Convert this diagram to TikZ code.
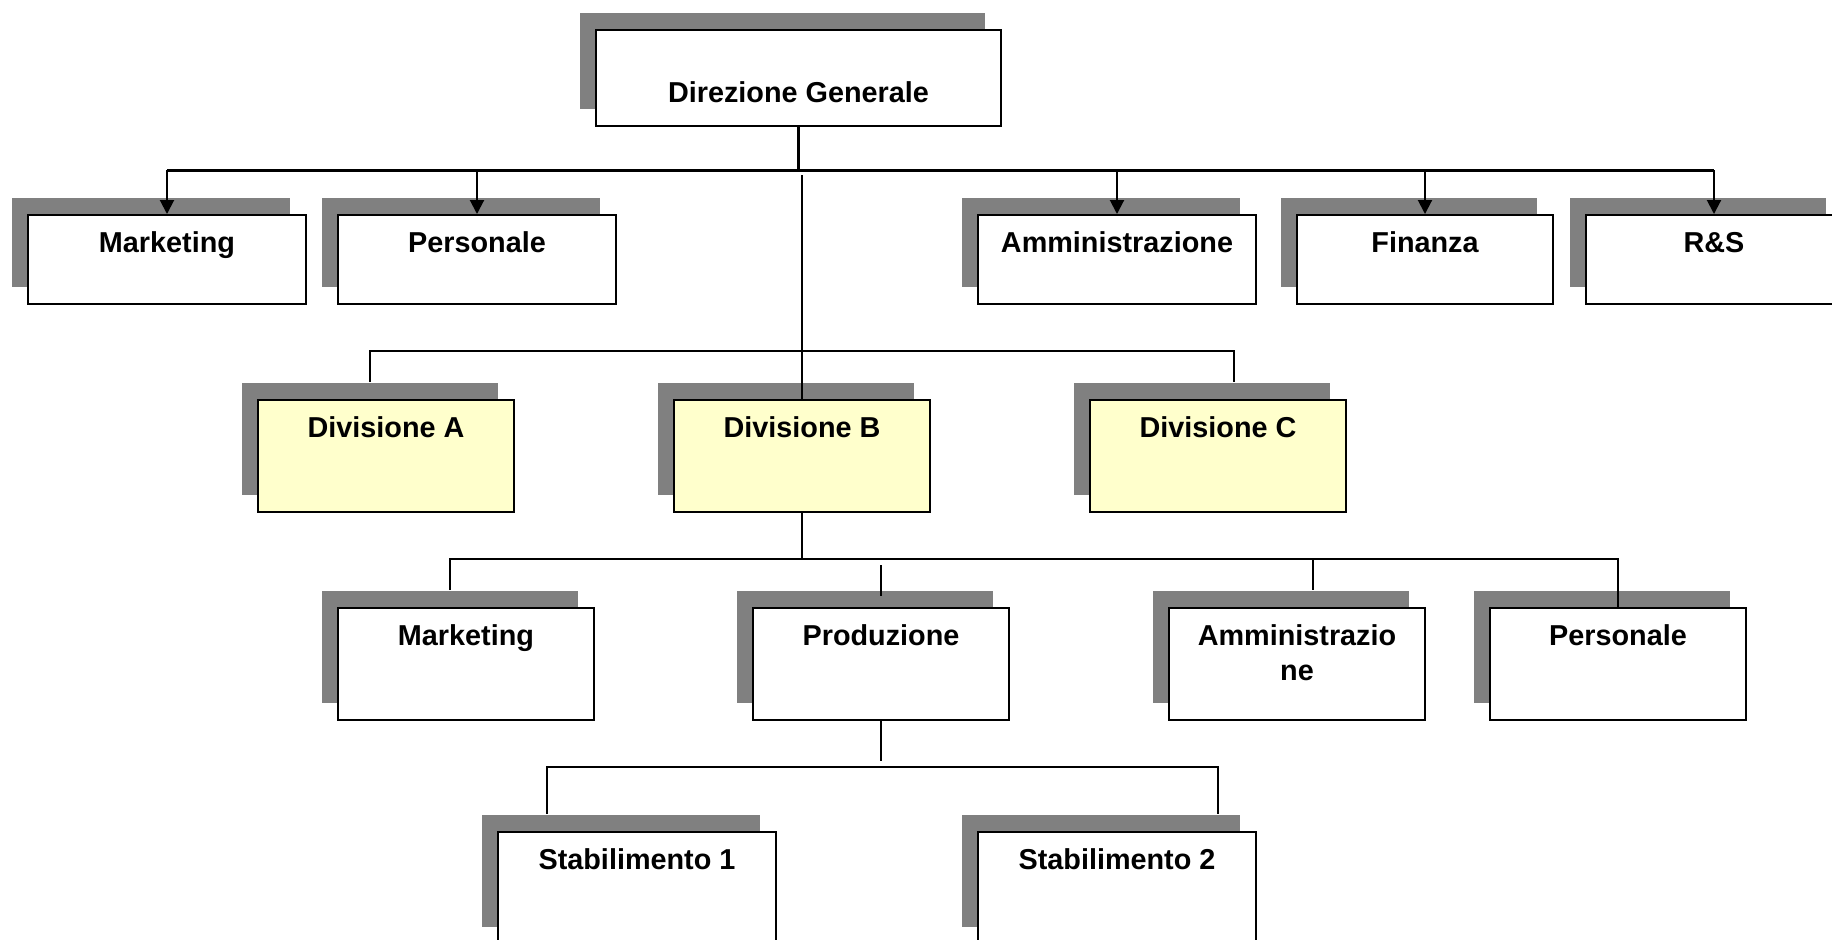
\documentclass[tikz,border=0pt]{standalone}
\usepackage{fontspec}
\setmainfont{Liberation Sans}
\usetikzlibrary{shadows,arrows.meta}
\definecolor{shadegray}{HTML}{808080}
\definecolor{divyellow}{HTML}{FFFFCC}
\begin{document}
\begin{tikzpicture}[x=0.5pt,y=-0.5pt,
   unit/.style={draw,line width=1pt,fill=white,anchor=north west,inner sep=0pt,
     drop shadow={shadow xshift=-8pt,shadow yshift=8.5pt,fill=shadegray,opacity=1}},
   wide/.style={minimum width=139pt},
   narrow/.style={minimum width=128pt},
   low/.style={minimum height=44.5pt},
   tall/.style={minimum height=56pt},
   division/.style={unit,narrow,tall,fill=divyellow},
   txt/.style={anchor=base,yshift=-19pt,align=center,
     font=\fontsize{14.4pt}{17.5pt}\selectfont\bfseries},
   bus/.style={line width=1.5pt},
   arr/.style={line width=1pt,-{Triangle[length=7pt,width=7pt]}},
   link/.style={line width=0.75pt}]
\useasboundingbox (0,0) rectangle (1832,939);
\node[unit,minimum width=202.5pt,minimum height=48pt,
  label={[txt,yshift=-17.5pt]north:Direzione Generale}] (dg) at (595,29) {};
\node[unit,wide,low,label={[txt]north:Marketing}] (mk) at (27,214) {};
\node[unit,wide,low,label={[txt]north:Personale}] (pe) at (337,214) {};
\node[unit,wide,low,label={[txt]north:Amministrazione}] (am) at (977,214) {};
\node[unit,narrow,low,label={[txt]north:Finanza}] (fi) at (1296,214) {};
\node[unit,narrow,low,label={[txt]north:R\&S}] (rs) at (1585,214) {};
\node[division,label={[txt]north:Divisione A}] (dA) at (257,399) {};
\node[division,label={[txt]north:Divisione B}] (dB) at (673,399) {};
\node[division,label={[txt]north:Divisione C}] (dC) at (1089,399) {};
\node[unit,narrow,tall,label={[txt]north:Marketing}] (mB) at (337,607) {};
\node[unit,narrow,tall,label={[txt]north:Produzione}] (pr) at (752,607) {};
\node[unit,narrow,tall,label={[txt,yshift=-17.5pt]north:Amministrazio\\ne}] (amB) at (1168,607) {};
\node[unit,narrow,tall,label={[txt]north:Personale}] (peB) at (1489,607) {};
\node[unit,wide,tall,label={[txt]north:Stabilimento 1}] (s1) at (497,831) {};
\node[unit,wide,tall,label={[txt]north:Stabilimento 2}] (s2) at (977,831) {};
\coordinate (bus) at (0,170);
\coordinate (divbus) at (0,351);
\coordinate (bus3) at (0,559);
\coordinate (bus4) at (0,767);
\draw[bus] (dg.south) -- (dg.south |- bus);
\draw[bus] (mk.north |- bus) -- (rs.north |- bus);
\foreach \n in {mk,pe,am,fi,rs}
  \draw[arr] (\n.north |- bus) -- (\n.north);
\draw[link] ([yshift=-2.5pt]dB.north |- bus) -- (dB.north);
\draw[link] ([xshift=-8pt,yshift=8.5pt]dA.north) |- ([xshift=8pt]dC.north |- divbus)
  -- ([xshift=8pt,yshift=8.5pt]dC.north);
\draw[link] (dB.south) -- (dB.south |- bus3);
\draw[link] ([xshift=-8pt,yshift=8.5pt]mB.north) |- (peB.north |- bus3) -- (peB.north);
\draw[link] ([xshift=8pt]amB.north |- bus3) -- ([xshift=8pt,yshift=8.5pt]amB.north);
\draw[link] ([yshift=21pt]pr.north) -- ([yshift=5.5pt]pr.north);
\draw[link] (pr.south) -- ++(0,40);
\draw[link] ([xshift=-45pt,yshift=8.5pt]s1.north) |- ([xshift=50.5pt]s2.north |- bus4)
  -- ([xshift=50.5pt,yshift=8.5pt]s2.north);
\end{tikzpicture}
\end{document}
